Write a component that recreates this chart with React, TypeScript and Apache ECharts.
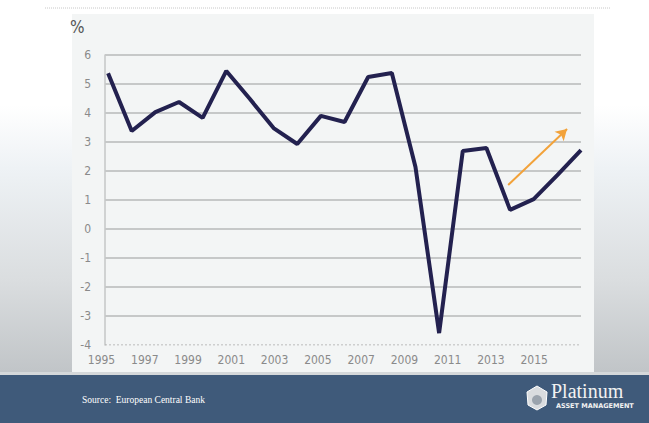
import React, { useEffect, useRef } from "react";
import * as echarts from "echarts";

// Data
const years: number[] = [1995, 1996, 1997, 1998, 1999, 2000, 2001, 2002, 2003, 2004, 2005, 2006, 2007, 2008, 2009, 2010, 2011, 2012, 2013, 2014, 2015];
const growth: number[] = [5.37, 3.38, 4.03, 4.38, 3.83, 5.45, 4.48, 3.48, 2.93, 3.9, 3.69, 5.24, 5.38, 2.14, -3.59, 2.69, 2.79, 0.66, 1.03, 1.86, 2.72];
const axisYearLabels: string[] = ["1995", "1996", "1997", "1998", "1999", "2000", "2001", "2002", "2003", "2004", "2005", "2006", "2007", "2008", "2009", "2010", "2011", "2012", "2013", "2014", "2015", "2016", "2017"];
const yTicks: number[] = [-4, -3, -2, -1, 0, 1, 2, 3, 4, 5, 6];
const dataAxisMin = 1994.87;
const dataAxisMax = 2015;
const arrowFrom: [number, number] = [2011.92, 1.52];
const arrowTo: [number, number] = [2014.41, 3.45];

const NARROW = "'Liberation Sans Narrow', 'DejaVu Sans Condensed', 'Roboto', sans-serif";
const SERIF = "'Liberation Serif', 'DejaVu Serif', serif";
const PANEL = "#f3f5f5";
const GRIDLINE = "#c6c8c8";

export default function App() {
  const ref = useRef<HTMLDivElement>(null);
  useEffect(() => {
    if (!ref.current) return;
    const chart = echarts.init(ref.current, undefined, { renderer: "svg" });
    const yMin = yTicks[0];
    const yMax = yTicks[yTicks.length - 1];

    // horizontal grid lines as plain line series, placed through the axes' scales
    const gridSeries = yTicks.map((v) => ({
      type: "line",
      xAxisIndex: 1,
      data: [[dataAxisMin, v], [dataAxisMax, v]],
      symbol: "none",
      silent: true,
      z: 1,
      lineStyle: v === yMin
        ? { color: "#a8a8a8", width: 1, type: [2, 2] }
        : { color: GRIDLINE, width: 2, type: "solid" },
    }));

    chart.setOption({
      animation: false,
      backgroundColor: "transparent",
      graphic: [
        { type: "line", silent: true, shape: { x1: 45, y1: 8, x2: 610, y2: 8 }, style: { stroke: "#c8c8c8", lineWidth: 1, lineDash: [1, 1] } },
        { type: "text", silent: true, style: { text: "%", x: 70, y: 27, fill: "#555555", font: `17px ${NARROW}`, textVerticalAlign: "middle" } },
        { type: "text", silent: true, style: { text: "Source:  European Central Bank", x: 82, y: 400, fill: "#ffffff", font: `9.5px ${SERIF}`, textVerticalAlign: "middle" } },
        { type: "polygon", silent: true, shape: { points: [[537, 386], [547, 392], [546, 405], [537, 410], [528, 405], [527, 392]] }, style: { fill: "#d9dcdf", stroke: "#ffffff", lineWidth: 1 } },
        { type: "circle", silent: true, shape: { cx: 537, cy: 400, r: 5 }, style: { fill: "#9aa3ad" } },
        { type: "text", silent: true, style: { text: "Platinum", x: 551, y: 391, fill: "#f2f2f2", font: `20px ${SERIF}`, textVerticalAlign: "middle" } },
        { type: "text", silent: true, style: { text: "ASSET MANAGEMENT", x: 556, y: 406, fill: "#f2f2f2", font: `bold 6.5px 'DejaVu Sans', sans-serif`, textVerticalAlign: "middle" } },
      ],
      grid: { left: 105, top: 55, right: 68, bottom: 78 },
      xAxis: [
        {
          type: "category", data: axisYearLabels, boundaryGap: false, position: "bottom",
          axisLine: { show: false }, axisTick: { show: false }, splitLine: { show: false },
          axisLabel: {
            interval: (i: number) => i % 2 === 0 && i < axisYearLabels.length - 1,
            color: "#8a8a8a", fontFamily: NARROW, fontSize: 12, margin: 9, padding: [0, 7, 0, 0],
          },
        },
        { type: "value", min: dataAxisMin, max: dataAxisMax, position: "bottom", show: false, splitLine: { show: false } },
      ],
      yAxis: {
        type: "value", min: yMin, max: yMax, interval: 1,
        axisLine: { show: true, lineStyle: { color: "#c4c6c6", width: 1.5 } },
        axisTick: { show: false },
        axisLabel: { color: "#8a8a8a", fontFamily: NARROW, fontSize: 12, margin: 14 },
        splitLine: { show: false },
      },
      series: [
        ...gridSeries,
        {
          type: "line", xAxisIndex: 1, data: years.map((y, i) => [y, growth[i]]), symbol: "none",
          lineStyle: { color: "#23214f", width: 4 }, clip: false, z: 5,
          markLine: {
            silent: true, symbol: ["none", "arrow"], symbolSize: [10, 11], label: { show: false },
            lineStyle: { color: "#f2a23a", width: 2, type: "solid" },
            data: [[{ coord: arrowFrom }, { coord: arrowTo }]],
          },
        },
      ],
    });
    return () => chart.dispose();
  }, []);
  return (
    <div style={{ position: "fixed", left: 0, top: 0, width: 649, height: 423, overflow: "hidden", background: "#ffffff" }}>
      <div style={{ position: "absolute", left: 0, top: 0, width: 649, height: 375, background: "linear-gradient(to bottom, #ffffff 0%, #ffffff 28%, #eef2f5 45%, #dadddf 75%, #c0c4c7 100%)" }} />
      <div style={{ position: "absolute", left: 72, top: 14, width: 522, height: 358, background: PANEL }} />
      <div style={{ position: "absolute", left: 0, top: 372, width: 649, height: 3, background: "#d5d8da" }} />
      <div style={{ position: "absolute", left: 0, top: 375, width: 649, height: 48, background: "#3f5a7a" }} />
      <div ref={ref} style={{ position: "absolute", left: 0, top: 0, width: 649, height: 423 }} />
    </div>
  );
}
